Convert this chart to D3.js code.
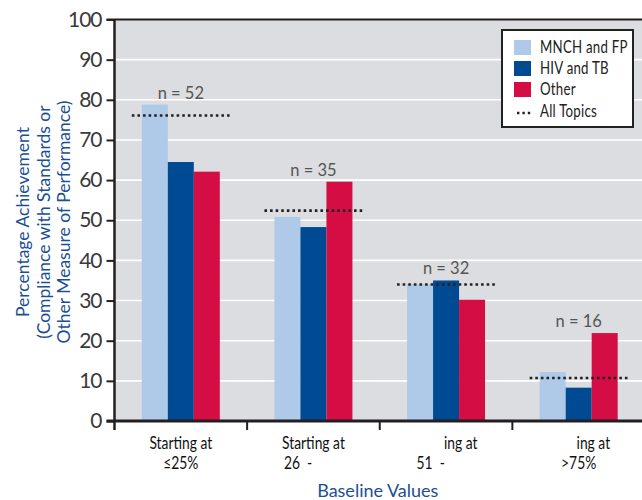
<!DOCTYPE html>
<html>
<head>
<meta charset="utf-8">
<script src="https://cdn.jsdelivr.net/npm/d3@7"></script>
<style>
  html, body { margin: 0; padding: 0; background: #ffffff; }
  svg { display: block; }
</style>
</head>
<body>
<svg id="chart" width="642" height="500"></svg>
<script>
// Achievement by baseline value band, per topic area
const categories = ["≤25%", "26-50%", "51-75%", ">75%"];
const tickLine1 = ["Starting at", "Starting at", "ing at", "ing at"];
const tickLine2 = ["≤25%", "26  -", "51  -", ">75%"];
const seriesNames = ["MNCH and FP", "HIV and TB", "Other"];
const mnchFp = [78.8, 50.8, 34.1, 12.2];
const hivTb = [64.5, 48.3, 35.0, 8.3];
const other = [62.1, 59.6, 30.2, 21.9];
const allTopics = [76.1, 52.4, 34.0, 10.7];
const sampleSizes = [52, 35, 32, 16];
const yTicks = [0, 10, 20, 30, 40, 50, 60, 70, 80, 90, 100];
const legendAllLabel = "All Topics";

(function () {
  const seriesValues = [mnchFp, hivTb, other];
  const colors = ["#aecae8", "#004a93", "#d40e45"];

  const svg = d3.select("#chart");
  const plotL = 114.5, plotR = 645, plotT = 19.5, plotB = 421;
  const humanist = "Lato, 'Open Sans', sans-serif";
  const ink = "#231f20";
  const titleBlue = "#1b4f94";

  // condensed text: a humanist face squeezed horizontally
  function condensed(sel, x, yPos, k) {
    return sel.append("text")
      .attr("transform", `translate(${x},${yPos}) scale(${k},1)`)
      .attr("font-family", humanist);
  }

  const x0 = d3.scaleBand().domain(categories).range([plotL, plotR]).paddingInner(0).paddingOuter(0);
  const y = d3.scaleLinear().domain([0, 100]).range([plotB, plotT]);
  const groupW = 78;
  const x1 = d3.scaleBand().domain(seriesNames)
    .range([x0.bandwidth() / 2 - groupW / 2, x0.bandwidth() / 2 + groupW / 2]).padding(0);

  // plot background
  svg.append("rect")
    .attr("x", plotL).attr("y", y(100))
    .attr("width", plotR - plotL).attr("height", y(0) - y(100))
    .attr("fill", "#dcdde0");

  // white gridlines
  svg.append("g").selectAll("line")
    .data(yTicks.filter(t => t > 0 && t < 100))
    .join("line")
    .attr("x1", plotL).attr("x2", plotR)
    .attr("y1", d => y(d)).attr("y2", d => y(d))
    .attr("stroke", "#ffffff").attr("stroke-width", 1.6);

  // bars
  const groups = svg.append("g").selectAll("g")
    .data(categories)
    .join("g")
    .attr("transform", d => `translate(${x0(d)},0)`);

  groups.selectAll("rect")
    .data((d, i) => seriesNames.map((s, j) => ({ s, v: seriesValues[j][i], j })))
    .join("rect")
    .attr("x", d => x1(d.s))
    .attr("width", x1.bandwidth())
    .attr("y", d => y(d.v))
    .attr("height", d => y(0) - y(d.v))
    .attr("fill", d => colors[d.j]);

  // all-topics reference line per group
  groups.append("line")
    .attr("x1", x0.bandwidth() / 2 - groupW / 2 - 10)
    .attr("x2", x0.bandwidth() / 2 + groupW / 2 + 10)
    .attr("y1", (d, i) => y(allTopics[i]))
    .attr("y2", (d, i) => y(allTopics[i]))
    .attr("stroke", "#222")
    .attr("stroke-width", 2.6)
    .attr("stroke-dasharray", "2.6,3");

  // sample size labels above the tallest bar
  groups.append("text")
    .attr("x", x0.bandwidth() / 2)
    .attr("y", (d, i) => y(Math.max(mnchFp[i], hivTb[i], other[i])) - 6)
    .attr("text-anchor", "middle")
    .attr("font-family", humanist)
    .attr("font-size", 16.5)
    .attr("fill", "#555")
    .text((d, i) => `n = ${sampleSizes[i]}`);

  // y axis
  const yAxis = d3.axisLeft(y).tickValues(yTicks).tickSize(8).tickPadding(5).tickFormat(d3.format("d"));
  const gy = svg.append("g").attr("transform", `translate(${plotL},0)`).call(yAxis);
  gy.select(".domain").remove();
  gy.selectAll(".tick line").attr("stroke", ink).attr("stroke-width", 2);
  gy.selectAll(".tick text")
    .attr("font-family", humanist).attr("font-size", 21).attr("fill", "#3a3a3a")
    .attr("letter-spacing", -1);

  // frame: left axis, top line, baseline
  svg.append("line").attr("x1", plotL).attr("x2", plotL).attr("y1", y(100)).attr("y2", y(0) + 9)
    .attr("stroke", ink).attr("stroke-width", 2.5);
  svg.append("line").attr("x1", plotL - 8).attr("x2", plotR).attr("y1", y(100)).attr("y2", y(100))
    .attr("stroke", ink).attr("stroke-width", 2.2);
  svg.append("line").attr("x1", plotL - 8).attr("x2", plotR).attr("y1", y(0)).attr("y2", y(0))
    .attr("stroke", ink).attr("stroke-width", 2.8);

  // category boundary ticks below the baseline
  svg.append("g").selectAll("line")
    .data(categories.slice(1))
    .join("line")
    .attr("x1", d => x0(d)).attr("x2", d => x0(d))
    .attr("y1", y(0)).attr("y2", y(0) + 9)
    .attr("stroke", ink).attr("stroke-width", 2);

  // category labels (two lines)
  const squeeze = 0.84;
  const xl = svg.append("g").attr("font-size", 16.5).attr("fill", "#111");
  const first = condensed(xl, x0(categories[0]) + x0.bandwidth() / 2, 449, squeeze)
    .attr("text-anchor", "middle").text(tickLine1[0]);
  const fullW = first.node().getComputedTextLength() * squeeze;
  categories.forEach((c, i) => {
    const cx = x0(c) + x0.bandwidth() / 2;
    if (i > 0) {
      const whole = tickLine1[i] === tickLine1[0];
      condensed(xl, whole ? cx : cx + fullW / 2, 449, squeeze)
        .attr("text-anchor", whole ? "middle" : "end")
        .text(tickLine1[i]);
    }
    const open = tickLine2[i].trim().endsWith("-");
    condensed(xl, open ? cx - 29.5 : cx, 469, squeeze)
      .attr("text-anchor", open ? "start" : "middle")
      .style("white-space", "pre")
      .text(tickLine2[i]);
  });

  // axis titles
  svg.append("text")
    .attr("x", (plotL + plotR) / 2 - 2).attr("y", 497)
    .attr("text-anchor", "middle")
    .attr("font-family", humanist).attr("font-size", 18).attr("fill", titleBlue)
    .text("Baseline Values");

  const yTitle = ["Percentage Achievement", "(Compliance with Standards or", "Other Measure of Performance)"];
  svg.append("g")
    .attr("transform", "translate(0,222) rotate(-90)")
    .selectAll("text")
    .data(yTitle)
    .join("text")
    .attr("x", 0)
    .attr("y", (d, i) => 29 + i * 20.5)
    .attr("text-anchor", "middle")
    .attr("font-family", humanist).attr("font-size", 17.5).attr("fill", titleBlue)
    .text(d => d);

  // legend
  const lg = svg.append("g");
  lg.append("rect")
    .attr("x", 502).attr("y", 30).attr("width", 131).attr("height", 97)
    .attr("fill", "#ffffff").attr("stroke", "#222").attr("stroke-width", 2);
  seriesNames.forEach((s, i) => {
    lg.append("rect")
      .attr("x", 514).attr("y", 40 + i * 21).attr("width", 17).attr("height", 15)
      .attr("fill", colors[i]);
    condensed(lg, 540, 53 + i * 21.2, 0.78)
      .attr("font-size", 17).attr("fill", "#222").attr("letter-spacing", 0.3)
      .text(s);
  });
  lg.append("line")
    .attr("x1", 517).attr("x2", 532).attr("y1", 113).attr("y2", 113)
    .attr("stroke", "#222").attr("stroke-width", 2.4).attr("stroke-dasharray", "2.4,3");
  condensed(lg, 540, 117, 0.78)
    .attr("font-size", 17).attr("fill", "#222").attr("letter-spacing", 0.3)
    .text(legendAllLabel);
})();
</script>
</body>
</html>
